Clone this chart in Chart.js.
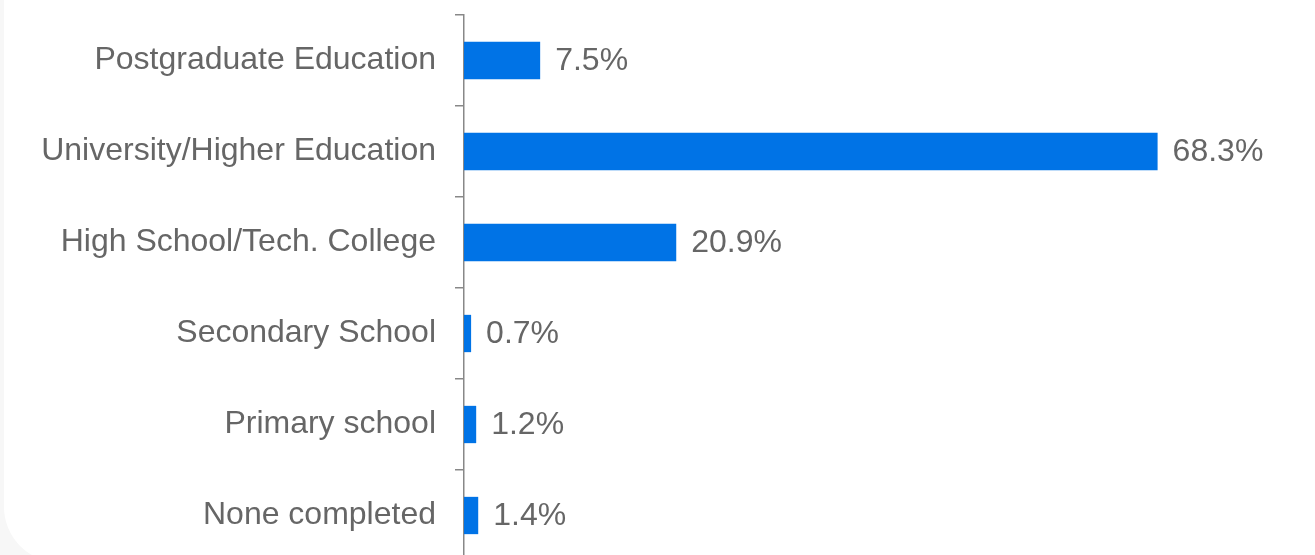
<!DOCTYPE html>
<html>
<head>
<meta charset="utf-8">
<script src="https://cdn.jsdelivr.net/npm/chart.js@4"></script>
<style>
  html, body { margin: 0; padding: 0; background: #f7f7f7; overflow: hidden; }
  .tarjeta {
    position: absolute; left: 4px; top: -60px;
    width: 1370px; height: 622px;
    background: #fff; border-radius: 55px;
  }
  .lienzo { position: absolute; left: -4px; top: 60px; width: 1315px; height: 600px; }
</style>
</head>
<body>
<div class="tarjeta">
  <div class="lienzo"><canvas id="graficaEducacion"></canvas></div>
</div>
<script>
const categorias = [
  'Postgraduate Education',
  'University/Higher Education',
  'High School/Tech. College',
  'Secondary School',
  'Primary school',
  'None completed'
];
const porcentajes = [7.5, 68.3, 20.9, 0.7, 1.2, 1.4];

const colorTexto = '#666666';
const fuente = { family: "'Liberation Sans', Arial, sans-serif", size: 32 };

// Etiquetas de valor a la derecha de cada barra
const etiquetasValor = {
  id: 'etiquetasValor',
  afterDatasetsDraw(chart) {
    const ctx = chart.ctx;
    const meta = chart.getDatasetMeta(0);
    ctx.save();
    ctx.font = fuente.size + 'px ' + fuente.family;
    ctx.fillStyle = colorTexto;
    ctx.textAlign = 'left';
    ctx.textBaseline = 'middle';
    meta.data.forEach((barra, i) => {
      ctx.fillText(porcentajes[i].toFixed(1) + '%', barra.x + 15, barra.y + 1);
    });
    ctx.restore();
  }
};

function crearGrafica() {
  const ctx = document.getElementById('graficaEducacion').getContext('2d');
  new Chart(ctx, {
    type: 'bar',
    data: {
      labels: categorias,
      datasets: [{
        data: porcentajes,
        backgroundColor: '#0073e6',
        borderWidth: 0,
        categoryPercentage: 1,
        barPercentage: 0.41
      }]
    },
    plugins: [etiquetasValor],
    options: {
      indexAxis: 'y',
      responsive: true,
      maintainAspectRatio: false,
      animation: false,
      layout: { padding: { top: 15, bottom: 39, left: 0, right: 0 } },
      plugins: {
        legend: { display: false },
        tooltip: { enabled: false }
      },
      scales: {
        x: {
          display: false,
          min: 0,
          max: 83.8
        },
        y: {
          afterFit(scale) {
            scale.width = 464;
            scale.paddingTop = 0;
            scale.paddingBottom = 0;
          },
          border: { display: true, color: '#888888', width: 1.5 },
          grid: {
            drawOnChartArea: false,
            drawTicks: true,
            tickLength: 9,
            color: '#888888',
            lineWidth: 1.5
          },
          ticks: {
            color: colorTexto,
            font: fuente,
            padding: 19
          }
        }
      }
    }
  });
}

document.addEventListener('DOMContentLoaded', crearGrafica);
</script>
</body>
</html>
